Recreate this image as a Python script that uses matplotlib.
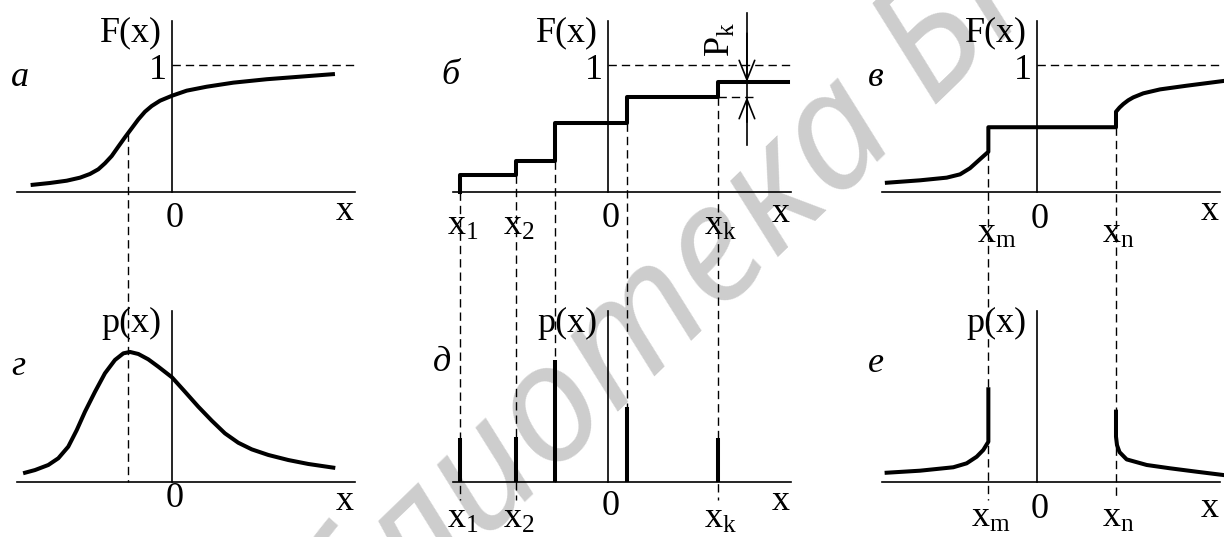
import matplotlib
matplotlib.use('Agg')
import matplotlib.pyplot as plt

plt.rcParams['font.family'] = ['Liberation Serif', 'DejaVu Serif']
plt.rcParams['mathtext.fontset'] = 'custom'
plt.rcParams['mathtext.rm'] = 'Liberation Serif'
plt.rcParams['mathtext.it'] = 'Liberation Serif:italic'

W, H = 1224, 537          # figure size, px
U = 127.0                 # px per unit (height of F = 1)

# ---- а: continuous distribution function
a_x = [-1.113, -0.961, -0.829, -0.724, -0.646, -0.580, -0.528, -0.475, -0.423, -0.370, -0.317,
       -0.265, -0.213, -0.160, -0.094, 0.0, 0.116, 0.273, 0.483, 0.746, 1.008, 1.283]
a_F = [0.055, 0.071, 0.089, 0.113, 0.142, 0.179, 0.226, 0.283, 0.357, 0.431, 0.502,
       0.572, 0.632, 0.677, 0.719, 0.758, 0.798, 0.829, 0.861, 0.888, 0.908, 0.929]
a_mode, a_mode_F = -0.344, 0.466

# ---- б / д: discrete distribution
d_x = [-1.165, -0.724, -0.417, 0.150, 0.866]     # x1, x2, x3, x4, xk
d_F = [0.134, 0.244, 0.543, 0.748, 0.866]        # F after each jump
d_end = 1.417
d_p = [0.346, 0.354, 0.961, 0.591, 0.346]        # probabilities (bars)
d_labels = [r'$\mathrm{x}_1$', r'$\mathrm{x}_2$', None, None, r'$\mathrm{x}_\mathrm{k}$']

# ---- в: mixed distribution function
xm, xn = -0.383, 0.622
m_left_x = [-1.182, -0.921, -0.711, -0.606, -0.528, -0.449, -0.383]
m_left_F = [0.073, 0.092, 0.113, 0.139, 0.187, 0.258, 0.317]
m_flat_F = 0.510
m_right_x = [0.622, 0.650, 0.680, 0.718, 0.758, 0.837, 0.969, 1.179, 1.467]
m_right_F = [0.632, 0.665, 0.693, 0.722, 0.745, 0.777, 0.808, 0.837, 0.874]

# ---- г: probability density of а
g_x = [-1.157, -1.079, -0.974, -0.895, -0.817, -0.750, -0.685, -0.606, -0.528, -0.449, -0.383,
       -0.331, -0.265, -0.187, -0.108, 0.0, 0.102, 0.207, 0.313, 0.417, 0.522, 0.628, 0.758,
       0.916, 1.073, 1.270]
g_p = [0.073, 0.094, 0.134, 0.187, 0.278, 0.409, 0.554, 0.711, 0.856, 0.961, 1.013,
       1.024, 1.008, 0.966, 0.908, 0.824, 0.711, 0.593, 0.483, 0.383, 0.309, 0.257, 0.213,
       0.173, 0.142, 0.113]

# ---- е: density of the mixed distribution
e_left_x = [-1.184, -0.921, -0.659, -0.554, -0.475, -0.423, -0.383]
e_left_p = [0.073, 0.089, 0.116, 0.147, 0.199, 0.252, 0.317]
e_spike_m = 0.730
e_spike_n = 0.554
e_right_x = [0.622, 0.630, 0.650, 0.706, 0.864, 1.047, 1.257, 1.467]
e_right_p = [0.357, 0.290, 0.235, 0.178, 0.134, 0.108, 0.081, 0.055]

X_LO, X_HI, Y_TOP = -1.22, 1.44, 1.35
AXIS_LW, CURVE_LW, DASH_LW = 1.2, 2.9, 1.0
DASH = (0, (6, 3.6))
FS = 26
BOTTOM_AXIS = -290 / U     # bottom row x-axis seen from the top row
BELOW_LABEL = -308 / U     # dashed guides running down to the lower labels

fig = plt.figure(figsize=(W / 100, H / 100), dpi=100)
fig.patch.set_facecolor('white')

# library watermark
fig.text(712 / W, 1 - 262 / H, 'Библиотека БГУИР', rotation=44, fontsize=118,
         color='#cdcdcd', family=['Noto Sans', 'DejaVu Sans'], style='italic',
         ha='center', va='center', rotation_mode='anchor', zorder=-1)


def panel(ox, oy, ylab, letter, letter_xy, zero_y, x_y):
    ax = fig.add_axes([0, 0, 1, 1])
    ax.set_xlim(-ox / U, (W - ox) / U)
    ax.set_ylim(-(H - oy) / U, oy / U)
    ax.axis('off')
    ax.patch.set_alpha(0)
    ax.plot([X_LO, X_HI], [0, 0], color='k', lw=AXIS_LW)
    ax.plot([0, 0], [0, Y_TOP], color='k', lw=AXIS_LW)
    ax.text(-0.32, 1.25, ylab, fontsize=FS, ha='center', va='center')
    ax.text(0.02, zero_y, '0', fontsize=FS, ha='center', va='baseline')
    ax.text(1.36, x_y, 'x', fontsize=FS, ha='center', va='baseline')
    ax.text(letter_xy[0], letter_xy[1], letter, fontsize=FS, style='italic',
            ha='center', va='center')
    return ax


def level_one(ax):
    ax.plot([0, 1.46], [1, 1], color='k', lw=DASH_LW, ls=DASH)
    ax.text(-0.11, 0.96, '1', fontsize=FS, ha='center', va='center')


############################################################################################
# а
ax = panel(172, 192, 'F(x)', 'а', (-1.20, 0.90), -0.276, -0.22)
level_one(ax)
ax.plot(a_x, a_F, color='k', lw=CURVE_LW, solid_capstyle='butt')
ax.plot([a_mode, a_mode], [a_mode_F, BOTTOM_AXIS], color='k', lw=DASH_LW, ls=DASH)

############################################################################################
# б
ax = panel(608, 192, 'F(x)', 'б', (-1.24, 0.92), -0.276, -0.236)
level_one(ax)
step_x = [d_x[0]] + d_x + [d_end]
step_F = [0.0] + d_F + [d_F[-1]]
ax.step(step_x, step_F, where='post', color='k', lw=CURVE_LW)
prev_F = [0.0] + d_F[:-1]
for xi, f0, lab in zip(d_x, prev_F, d_labels):
    ax.plot([xi, xi], [f0, BELOW_LABEL if lab else BOTTOM_AXIS],
            color='k', lw=DASH_LW, ls=DASH)
    if lab:
        ax.text(xi + 0.02, -0.339, lab, fontsize=FS, ha='center', va='baseline')
# jump P_k at xk
pk_x = 1.094
ax.plot([pk_x, pk_x], [1.41, 0.37], color='k', lw=AXIS_LW)
ax.plot([d_x[-1], 1.18], [d_F[-2], d_F[-2]], color='k', lw=DASH_LW, ls=DASH)
arrow = dict(arrowstyle='->,head_length=0.7,head_width=0.28', lw=AXIS_LW,
             color='k', shrinkA=0, shrinkB=0, mutation_scale=20)
ax.annotate('', xy=(pk_x, d_F[-1]), xytext=(pk_x, 1.25), arrowprops=arrow)
ax.annotate('', xy=(pk_x, d_F[-2]), xytext=(pk_x, 0.55), arrowprops=arrow)
ax.text(0.89, 1.20, r'$\mathrm{P}_\mathrm{k}$', fontsize=FS, rotation=90,
        ha='center', va='center')

############################################################################################
# в
ax = panel(1037, 192, 'F(x)', 'в', (-1.27, 0.90), -0.28, -0.22)
level_one(ax)
ax.plot(m_left_x + [xm, xn] + m_right_x,
        m_left_F + [m_flat_F, m_flat_F] + m_right_F,
        color='k', lw=CURVE_LW)
ax.plot([xm, xm], [m_left_F[-1], BELOW_LABEL], color='k', lw=DASH_LW, ls=DASH)
ax.plot([xn, xn], [m_flat_F, BELOW_LABEL], color='k', lw=DASH_LW, ls=DASH)
ax.text(xm + 0.07, -0.40, r'$\mathrm{x}_\mathrm{m}$', fontsize=FS, ha='center', va='baseline')
ax.text(xn + 0.02, -0.40, r'$\mathrm{x}_\mathrm{n}$', fontsize=FS, ha='center', va='baseline')

############################################################################################
# г
ax = panel(172, 482, 'p(x)', 'г', (-1.21, 0.91), -0.197, -0.22)
ax.plot(g_x, g_p, color='k', lw=CURVE_LW)

############################################################################################
# д
ax = panel(608, 482, 'p(x)', 'д', (-1.31, 0.94), -0.26, -0.22)
ax.vlines(d_x, 0, d_p, color='k', lw=CURVE_LW)
for xi, lab in zip(d_x, d_labels):
    if lab:
        ax.text(xi + 0.02, -0.36, lab, fontsize=FS, ha='center', va='baseline')

############################################################################################
# е
ax = panel(1037, 482, 'p(x)', 'е', (-1.27, 0.93), -0.28, -0.276)
ax.plot(e_left_x + [xm], e_left_p + [e_spike_m], color='k', lw=CURVE_LW)
ax.plot([xn] + e_right_x, [e_spike_n] + e_right_p, color='k', lw=CURVE_LW)
ax.text(xm + 0.02, -0.355, r'$\mathrm{x}_\mathrm{m}$', fontsize=FS, ha='center', va='baseline')
ax.text(xn + 0.02, -0.355, r'$\mathrm{x}_\mathrm{n}$', fontsize=FS, ha='center', va='baseline')

fig.savefig('out.png', dpi=100, facecolor='white')
